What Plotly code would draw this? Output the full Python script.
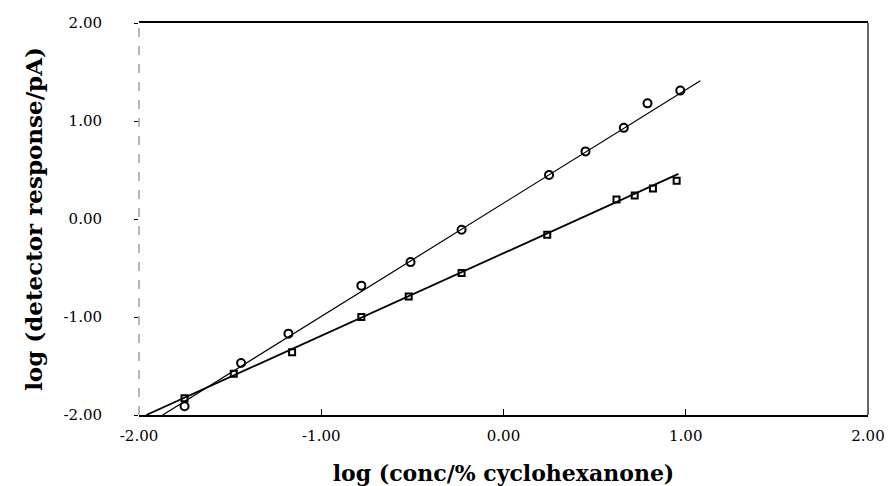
import plotly.graph_objects as go

# Series A (steeper response line, circles)
a_logconc = [-1.75, -1.44, -1.18, -0.78, -0.51, -0.23, 0.25, 0.45, 0.66, 0.79, 0.97]
a_logresp = [-1.91, -1.47, -1.17, -0.68, -0.44, -0.11, 0.45, 0.69, 0.93, 1.18, 1.31]

# Series B (shallower response line, squares)
b_logconc = [-1.75, -1.48, -1.16, -0.78, -0.52, -0.23, 0.24, 0.62, 0.72, 0.82, 0.95]
b_logresp = [-1.83, -1.58, -1.36, -1.00, -0.79, -0.55, -0.16, 0.20, 0.24, 0.31, 0.39]

# Fitted lines (endpoints)
a_fit_x = [-1.87, 1.08]
a_fit_y = [-2.00, 1.41]
b_fit_x = [-1.96, 0.96]
b_fit_y = [-2.00, 0.46]

tick_vals = [-2, -1, 0, 1, 2]
tick_text = ["-2.00", "-1.00", "0.00", "1.00", "2.00"]

FONT = "DejaVu Serif"

fig = go.Figure()
fig.add_trace(go.Scatter(x=a_fit_x, y=a_fit_y, mode="lines",
                         line=dict(color="black", width=1.2), showlegend=False))
fig.add_trace(go.Scatter(x=b_fit_x, y=b_fit_y, mode="lines",
                         line=dict(color="black", width=1.8), showlegend=False))
fig.add_trace(go.Scatter(x=a_logconc, y=a_logresp, mode="markers",
                         marker=dict(symbol="circle-open", size=8, color="black",
                                     line=dict(color="black", width=2)),
                         showlegend=False))
fig.add_trace(go.Scatter(x=b_logconc, y=b_logresp, mode="markers",
                         marker=dict(symbol="square-open", size=6, color="black",
                                     line=dict(color="black", width=2)),
                         showlegend=False))

fig.update_layout(
    width=888, height=486,
    margin=dict(l=139, r=20, t=23, b=71),
    paper_bgcolor="white", plot_bgcolor="white",
    font=dict(family=FONT, color="black"),
    xaxis=dict(range=[-2, 2], tickvals=tick_vals, ticktext=tick_text,
               automargin=False,
               showgrid=False, zeroline=False, showline=True, mirror=True,
               linecolor="black", linewidth=1.5, ticks="inside", ticklen=6,
               tickcolor="black", ticklabelstandoff=6,
               tickfont=dict(size=15, family=FONT),
               title=dict(text="<b>log (conc/% cyclohexanone)</b>",
                          font=dict(size=22, family=FONT), standoff=24)),
    yaxis=dict(range=[-2, 2], tickvals=tick_vals, ticktext=tick_text,
               automargin=False,
               showgrid=False, zeroline=False, showline=False,
               ticks="outside", ticklen=4, tickcolor="black",
               ticklabelstandoff=29,
               tickfont=dict(size=15, family=FONT),
               title=dict(text="<b>log (detector response/pA)</b>",
                          font=dict(size=23, family=FONT), standoff=14)),
    shapes=[
        dict(type="line", xref="x domain", yref="y domain", x0=0, x1=0, y0=0, y1=1,
             line=dict(color="#888888", width=1.2, dash="dash")),
        dict(type="line", xref="x domain", yref="y domain", x0=1, x1=1, y0=0, y1=1,
             line=dict(color="black", width=1.2)),
    ],
)

fig.write_html(
    "out.html",
    config={"displayModeBar": False},
    post_script="document.body.style.margin='0';document.body.style.overflow='hidden';",
)
